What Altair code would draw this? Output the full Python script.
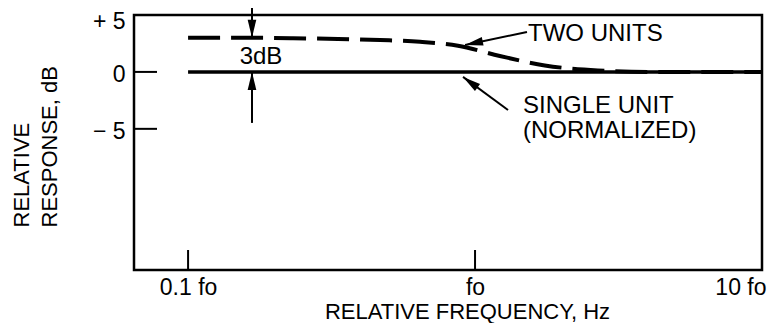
import altair as alt
import pandas as pd

# ---------------- data ----------------
# relative frequency in multiples of fo, response in dB
two_freq = [0.1, 0.164, 0.232, 0.333, 0.467, 0.643, 0.872, 1.22, 1.75, 2.68, 4.07, 10.0]
two_db = [3.0, 3.0, 2.96, 2.9, 2.8, 2.65, 2.3, 1.4, 0.57, 0.13, 0.0, 0.0]
single_freq = [0.1, 10.0]
single_db = [0.0, 0.0]

x_ticks = [0.1, 1.0, 10.0]
x_tick_labels = ["0.1 fo", "fo", "10 fo"]
y_ticks = [5, 0, -5]
y_tick_labels = ["+ 5", "0", "\u2212 5"]
x_inner_ticks = [0.1, 1.0]
y_inner_ticks = [5, 0, -5]

# annotations
note_text = ["TWO UNITS", "SINGLE UNIT", "(NORMALIZED)", "3dB"]
note_freq = [1.53, 1.47, 1.47, 0.1795]
note_db = [3.3, -3.0, -5.2, 1.32]
note_align = ["left", "left", "left", "center"]

# leader / dimension lines: start -> tip
lead_f1 = [1.517, 1.303, 0.167, 0.167]
lead_d1 = [3.51, -3.34, 7.0, -4.48]
lead_f2 = [0.923, 0.908, 0.167, 0.167]
lead_d2 = [2.37, -0.44, 3.0, 0.0]
lead_angle = [168.2, 216.3, 90, 270]

FONT = "Liberation Sans"
W, H = 628, 255

xs = alt.Scale(type="log", domain=[0.0648, 10])
ys = alt.Scale(domain=[-17.4, 5])


def label_expr(vals, labs):
    expr = "''"
    for v, l in reversed(list(zip(vals, labs))):
        expr = f"datum.value == {v} ? '{l}' : ({expr})"
    return expr


x_axis = alt.Axis(
    values=x_ticks, labelExpr=label_expr(x_ticks, x_tick_labels),
    ticks=False, domain=False, grid=False,
    labelFont=FONT, labelFontSize=23, labelColor="black", labelPadding=6,
    labelFlush=True, labelFlushOffset=4, labelOverlap=False, labelBound=False,
    title="RELATIVE FREQUENCY, Hz", titleFont=FONT, titleFontSize=22,
    titleFontWeight="normal", titleColor="black",
    titleX=333, titleY=48.5, titleAlign="center", titleBaseline="alphabetic",
)
y_axis = alt.Axis(
    values=y_ticks, labelExpr=label_expr(y_ticks, y_tick_labels),
    ticks=False, domain=False, grid=False,
    labelFont=FONT, labelFontSize=23, labelColor="black", labelPadding=9,
    labelBaseline="middle",
    labelOffset={"condition": {"test": "datum.value == 5", "value": 6},
                 "value": 2.5},
    labelOverlap=False, labelBound=False, labelFlush=False,
    title=["RELATIVE", "RESPONSE, dB"], titleFont=FONT, titleFontSize=22,
    titleFontWeight="normal", titleColor="black",
    titleAngle=270, titleAlign="left", titleBaseline="alphabetic",
    titleLineHeight=28, titleX=-106, titleY=212,
)

df_two = pd.DataFrame({"f": two_freq, "db": two_db})
df_single = pd.DataFrame({"f": single_freq, "db": single_db})

single = alt.Chart(df_single).mark_line(color="black", strokeWidth=3.5).encode(
    x=alt.X("f:Q", scale=xs, axis=x_axis),
    y=alt.Y("db:Q", scale=ys, axis=y_axis),
)
two = alt.Chart(df_two).mark_line(
    color="black", strokeWidth=4, strokeDash=[32, 11], interpolate="monotone"
).encode(x=alt.X("f:Q", scale=xs), y=alt.Y("db:Q", scale=ys))

yt = alt.Chart(pd.DataFrame({"v": y_inner_ticks})).mark_rule(
    color="black", strokeWidth=2).encode(
    y=alt.Y("v:Q", scale=ys), x=alt.value(0), x2=alt.value(23))
xt = alt.Chart(pd.DataFrame({"v": x_inner_ticks})).mark_rule(
    color="black", strokeWidth=2).encode(
    x=alt.X("v:Q", scale=xs), y=alt.value(H - 20), y2=alt.value(H))

frame = alt.Chart(pd.DataFrame({"k": [0]})).mark_rect(
    fillOpacity=0, stroke="black", strokeWidth=2.5).encode(
    x=alt.value(0), x2=alt.value(W), y=alt.value(0), y2=alt.value(H))

df_lead = pd.DataFrame({"f1": lead_f1, "d1": lead_d1, "f2": lead_f2,
                        "d2": lead_d2, "ang": lead_angle})
leads = alt.Chart(df_lead).mark_rule(color="black", strokeWidth=2).encode(
    x=alt.X("f1:Q", scale=xs), y=alt.Y("d1:Q", scale=ys),
    x2="f2:Q", y2="d2:Q")
heads = alt.Chart(df_lead).mark_point(
    shape="M0,0 L-1,-0.24 L-1,0.24 Z", filled=True, color="black",
    opacity=1, size=1296, strokeWidth=0).encode(
    x=alt.X("f2:Q", scale=xs), y=alt.Y("d2:Q", scale=ys),
    angle=alt.Angle("ang:Q", scale=None))

df_note = pd.DataFrame({"t": note_text, "f": note_freq, "db": note_db,
                        "a": note_align})
notes_left = alt.Chart(df_note[df_note.a == "left"]).mark_text(
    font=FONT, fontSize=24, align="left", baseline="middle", color="black").encode(
    x=alt.X("f:Q", scale=xs), y=alt.Y("db:Q", scale=ys), text="t:N")
notes_center = alt.Chart(df_note[df_note.a == "center"]).mark_text(
    font=FONT, fontSize=24, align="center", baseline="middle", color="black").encode(
    x=alt.X("f:Q", scale=xs), y=alt.Y("db:Q", scale=ys), text="t:N")

chart = alt.layer(frame, single, two, yt, xt, leads, heads, notes_left,
                  notes_center).properties(
    width=W, height=H, background="white",
    autosize=alt.AutoSizeParams(type="none"),
    padding={"left": 126, "top": 7, "right": 6, "bottom": 53},
).configure_view(strokeWidth=0)

chart.save("out.html", embed_options={"renderer": "svg", "actions": False})
